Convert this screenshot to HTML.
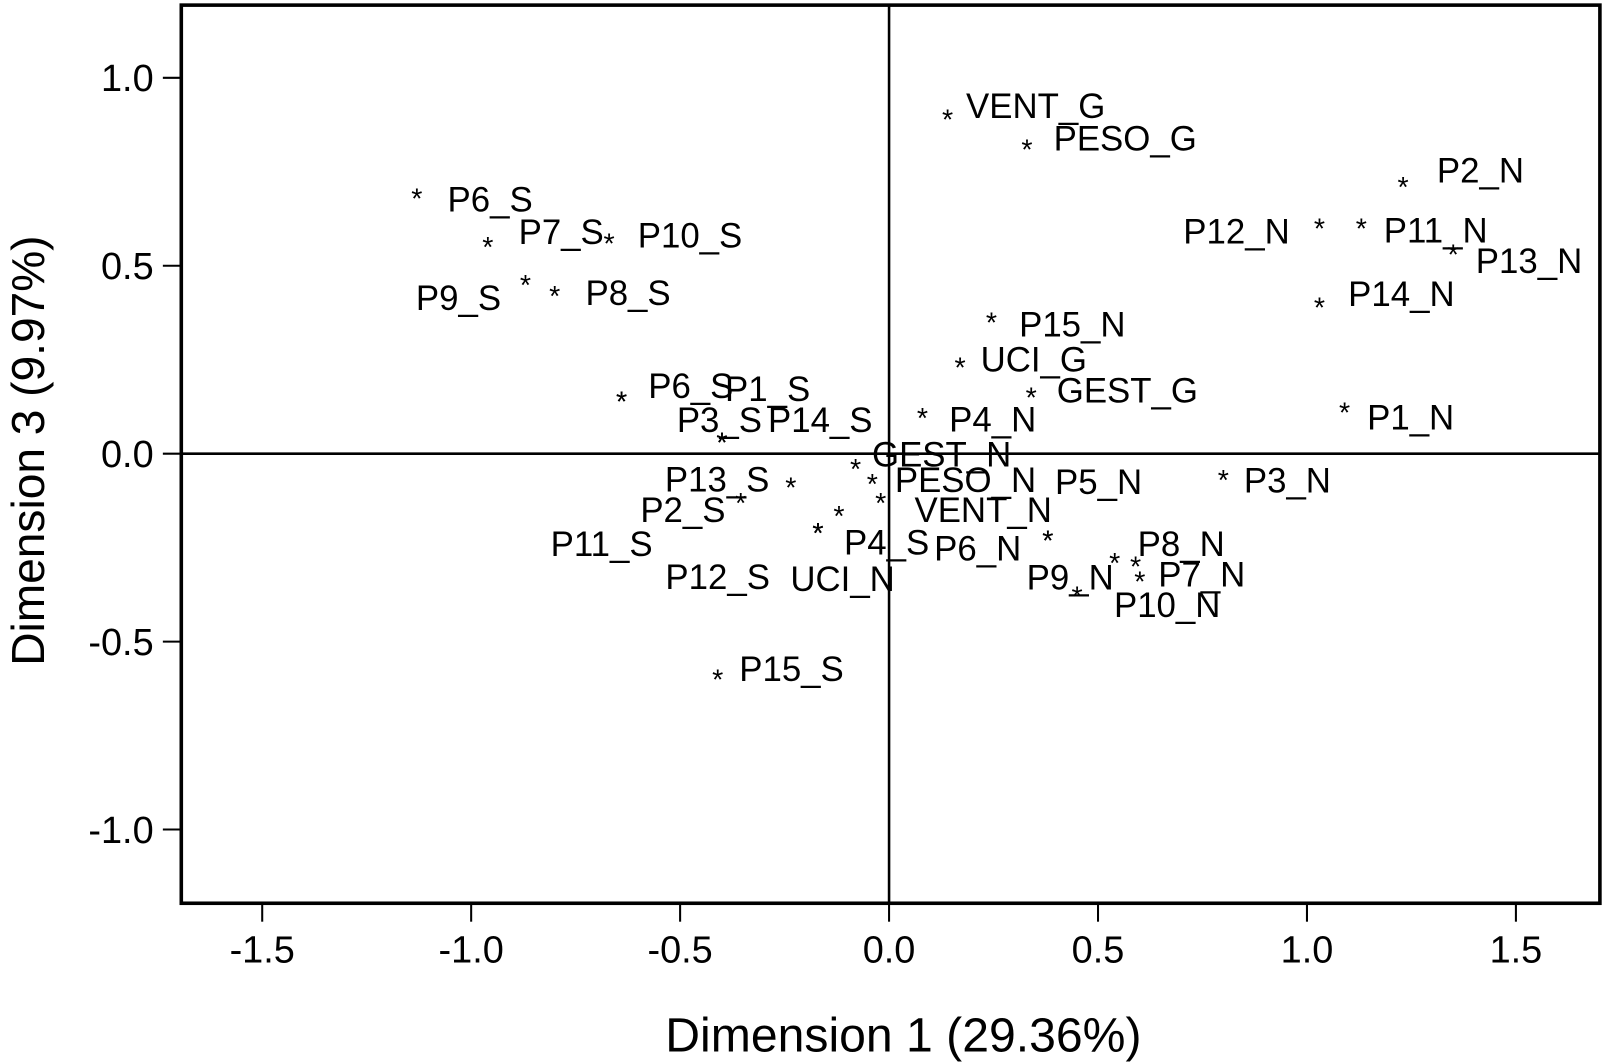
<!DOCTYPE html>
<html><head><meta charset="utf-8"><style>
html,body{margin:0;padding:0;background:#fff;}
svg{display:block;}
text{font-family:"Liberation Sans",Arial,sans-serif;fill:#000;}
</style></head><body>
<svg id="chart" width="1604" height="1062" viewBox="0 0 1566 1037" preserveAspectRatio="none" xmlns="http://www.w3.org/2000/svg">
<g id="axes"></g>
<g id="marks"></g>
</svg>
<script>
const names=["VENT_G","PESO_G","P2_N","P12_N","P11_N","P13_N","P14_N","P15_N","UCI_G","GEST_G","P1_N","P4_N","P6_S","P1_S","P3_S","P14_S","GEST_N","PESO_N","P5_N","P6_N","VENT_N","P13_S","P2_S","P11_S","P4_S","UCI_N","P12_S","P3_N","P8_N","P7_N","P9_N","P10_N","P15_S","P6_S","P7_S","P10_S","P9_S","P8_S"];
const dimX=[0.14,0.33,1.23,1.03,1.13,1.35,1.03,0.245,0.17,0.34,1.09,0.08,-0.64,-0.64,-0.40,-0.40,-0.08,-0.04,0.38,0.38,-0.02,-0.235,-0.355,-0.17,-0.12,-0.17,-0.17,0.80,0.59,0.60,0.54,0.45,-0.41,-1.13,-0.96,-0.67,-0.87,-0.80];
const dimY=[0.89,0.81,0.71,0.60,0.60,0.53,0.39,0.35,0.23,0.15,0.11,0.095,0.14,0.14,0.03,0.03,-0.04,-0.08,-0.23,-0.23,-0.13,-0.09,-0.13,-0.21,-0.165,-0.21,-0.21,-0.07,-0.30,-0.34,-0.29,-0.38,-0.60,0.68,0.55,0.56,0.45,0.42];
const xTicks=[-1.5,-1.0,-0.5,0.0,0.5,1.0,1.5];
const yTicks=[1.0,0.5,0.0,-0.5,-1.0];
const xTickLabels=["-1.5","-1.0","-0.5","0.0","0.5","1.0","1.5"];
const yTickLabels=["1.0","0.5","0.0","-0.5","-1.0"];
// label offsets (px) relative to star
const ldx=[18,26,33,-133,22,22,28,27,20,25,22,26,26,101,-44,45,16,22,7,-111,33,-123,-98,-261,5,-27,-149,20,2,18,-86,36,21,30,30,28,-107,30];
const ldy=[-12,-10,-15,4,3,7,-12,3,-7,-6,6,2,-14,-11,-21,-21,-13,-3,-56,9,8,-7,8,12,27,46,44,1,-21,-6,15,9,-9,2,-14,-7,14,-2];

const L=177,R=1562,T=5,B=882;
const X=v=>868+v*408;
const Y=v=>443-v*367;
const ns="http://www.w3.org/2000/svg";
function mk(tag,attrs,parent){const e=document.createElementNS(ns,tag);for(const k in attrs)e.setAttribute(k,attrs[k]);parent.appendChild(e);return e;}
const ax=document.getElementById('axes'), mg=document.getElementById('marks');
let e;
e=mk('rect',{x:L,y:T,width:R-L,height:B-T,fill:'none',stroke:'#000','stroke-width':3.5},ax);


e=mk('line',{x1:X(0),x2:X(0),y1:T,y2:B,stroke:'#000','stroke-width':2.5},ax);


e=mk('line',{x1:L,x2:R,y1:Y(0),y2:Y(0),stroke:'#000','stroke-width':2.5},ax);


xTicks.forEach((v,i)=>{
  e=mk('line',{x1:X(v),x2:X(v),y1:B,y2:B+18,stroke:'#000','stroke-width':2},ax);
  
  
  e=mk('text',{x:X(v),y:B+58,'text-anchor':'middle','font-size':37},ax);
  e.textContent=xTickLabels[i];
  
  
});
yTicks.forEach((v,i)=>{
  e=mk('line',{x1:L-18,x2:L,y1:Y(v),y2:Y(v),stroke:'#000','stroke-width':2},ax);
  
  
  e=mk('text',{x:L-27,y:Y(v)+13,'text-anchor':'end','font-size':37},ax);
  e.textContent=yTickLabels[i];
  
  
});
e=mk('text',{x:882,y:1027,'text-anchor':'middle','font-size':47},ax);
e.textContent='Dimension 1 (29.36%)';


e=mk('text',{x:0,y:0,'text-anchor':'middle','font-size':45,transform:'translate(43,440) rotate(-90)'},ax);
e.textContent='Dimension 3 (9.97%)';


names.forEach((n,i)=>{
  const cx=X(dimX[i]), cy=Y(dimY[i]);
  e=mk('text',{x:cx,y:cy+10,'text-anchor':'middle','font-size':28},mg);
  e.textContent='*';
  
  
  e=mk('text',{x:cx+ldx[i],y:cy+ldy[i]+11,'font-size':34},mg);
  e.textContent=n;
  
  
});
</script>
</body></html>
